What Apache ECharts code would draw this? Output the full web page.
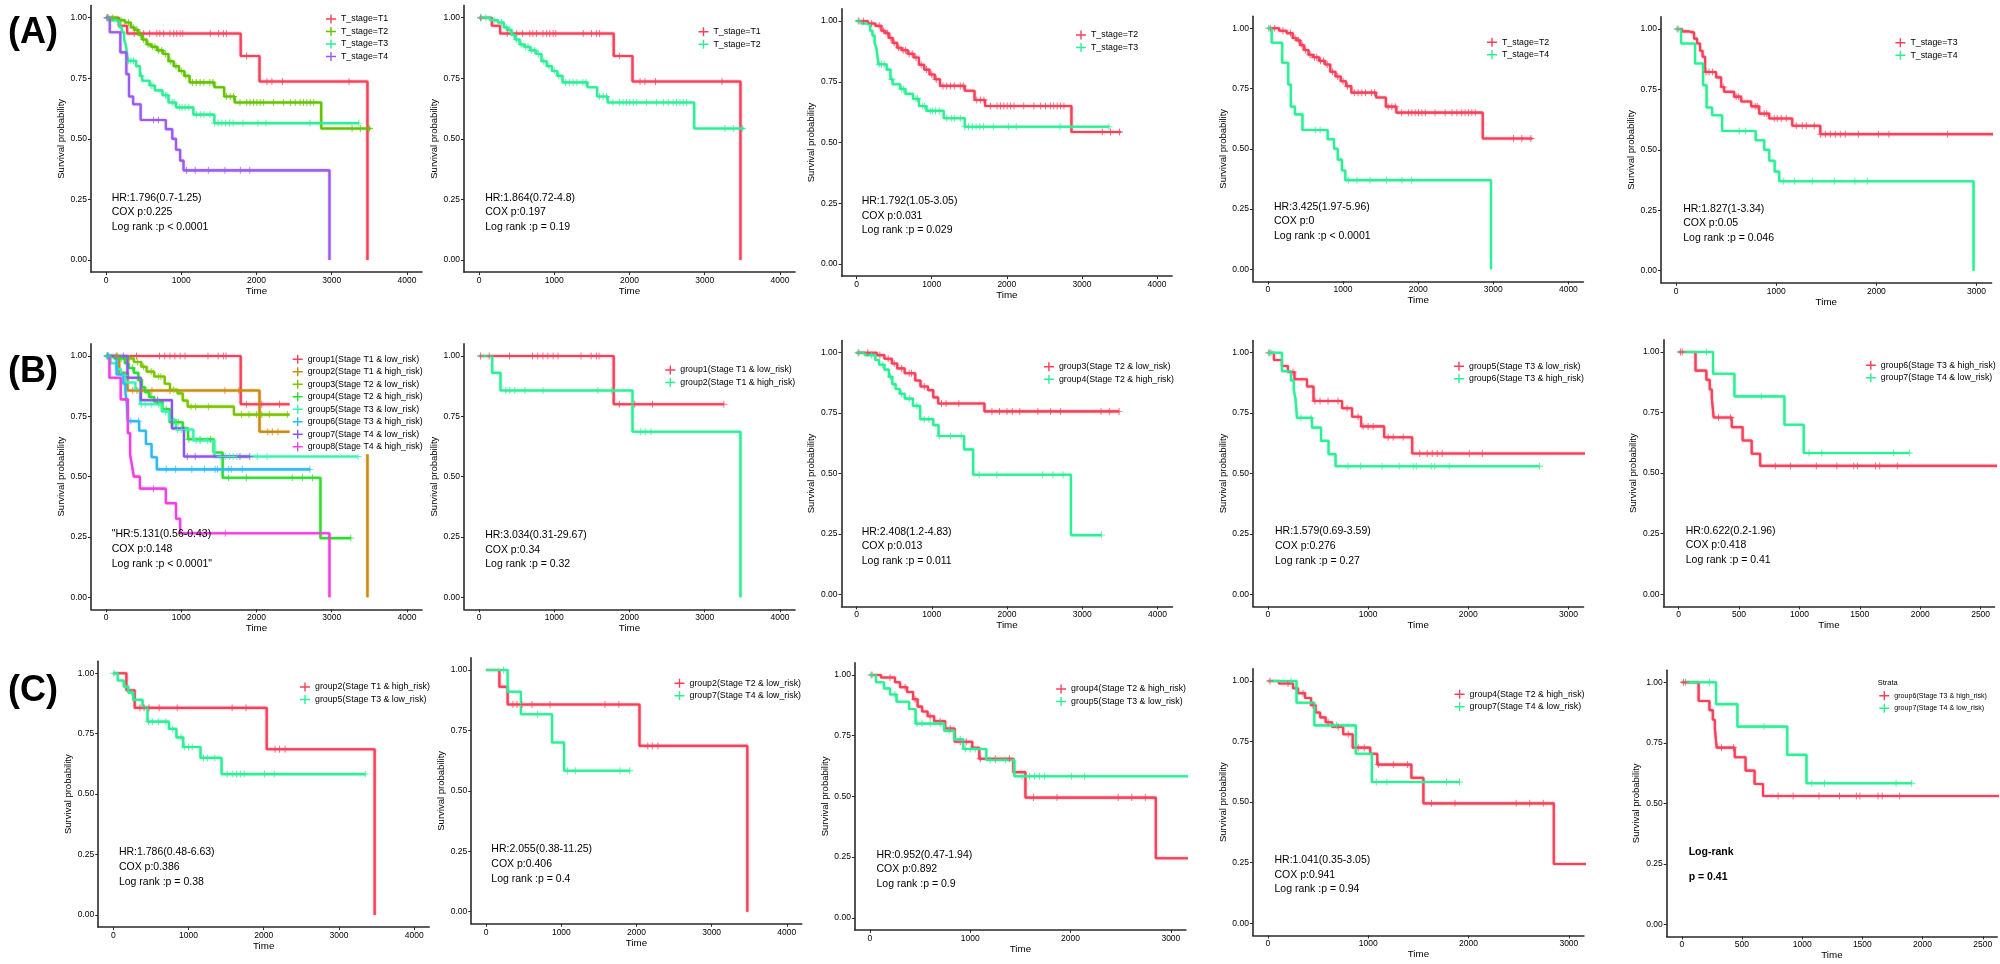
<!DOCTYPE html>
<html><head><meta charset="utf-8">
<script src="https://cdn.jsdelivr.net/npm/echarts@6/dist/echarts.min.js"></script>
<style>html,body{margin:0;padding:0;background:#fff}#c{width:2000px;height:964px}</style>
</head><body><div id="c"></div>
<script>
// ---------- tick labels ----------
const TICKS_4000 = [0, 1000, 2000, 3000, 4000];
const TICKS_3000 = [0, 1000, 2000, 3000];
const TICKS_2500 = [0, 500, 1000, 1500, 2000, 2500];
const Y_TICKS = [0, 0.25, 0.5, 0.75, 1];

// ---------- survival curves: [time, survival] steps, censor times ----------
const T1_steps = [[0,1],[170,0.967],[280,0.935],[1790,0.842],[2040,0.737],[3475,0]];
const T1_cens = [20,375,500,580,675,715,765,850,900,940,985,1020,1385,1495,1560,1600,1868,2140,2205,2345,3230];
const T2_steps = [[0,1],[150,0.99],[250,0.98],[330,0.96],[380,0.95],[430,0.93],[480,0.91],[540,0.89],[600,0.88],[680,0.865],[760,0.85],[830,0.82],[900,0.80],[970,0.78],[1040,0.76],[1110,0.733],[1440,0.713],[1570,0.675],[1710,0.65],[2860,0.543],[3520,0.543]];
const T2_cens = [30,90,200,300,360,410,455,500,560,620,650,700,740,790,860,930,1000,1060,1150,1200,1250,1300,1380,1420,1600,1650,1695,1780,1870,1915,1960,2005,2050,2095,2225,2360,2450,2515,2580,2625,2670,2715,2760,3270,3380,3500];
const T3_steps = [[0,1],[60,0.99],[130,0.985],[180,0.96],[210,0.94],[240,0.91],[265,0.885],[290,0.822],[400,0.80],[450,0.76],[480,0.74],[580,0.72],[650,0.70],[750,0.68],[830,0.65],[930,0.63],[1160,0.60],[1440,0.565],[3360,0.565]];
const T3_cens = [20,300,330,365,470,600,625,790,810,880,905,980,1010,1050,1100,1200,1260,1300,1380,1440,1490,1540,1590,1640,1690,1820,2020,2125,2710,3360];
const T4_steps = [[0,1],[50,0.94],[190,0.857],[270,0.767],[305,0.675],[360,0.643],[460,0.578],[795,0.54],[880,0.50],[930,0.455],[985,0.41],[1030,0.37],[2970,0]];
const T4_cens = [10,630,695,1070,1185,1360,1580,1785,1910];

const G1_steps = [[0,1],[1790,0.80],[3254,0.80]];
const G1_cens = [20,135,405,710,780,850,915,985,1050,1355,1490,1560,1595,1865,2070,2305,3254];
const G2_steps = [[0,1],[175,0.93],[285,0.857],[2040,0.686],[3475,0]];
const G2_cens = [355,410,475,610,850,1580,1765,2150,2210,2285];
const G3_steps = [[0,1],[270,0.99],[370,0.975],[470,0.955],[540,0.935],[640,0.915],[780,0.885],[850,0.86],[950,0.845],[1020,0.815],[1085,0.79],[1700,0.757],[3490,0.757]];
const G3_cens = [30,150,310,420,500,600,700,730,900,1130,1190,1360,1800,1900,2000,2070,2170,2410,2580,2710,3250,3360,3490];
const G4_steps = [[0,1],[110,0.99],[250,0.97],[300,0.95],[370,0.93],[430,0.90],[475,0.87],[520,0.85],[575,0.83],[640,0.81],[750,0.78],[845,0.725],[1020,0.70],[1090,0.655],[1430,0.60],[1550,0.495],[2850,0.245],[3254,0.245]];
const G4_cens = [20,200,350,450,600,700,800,900,960,1100,1250,1390,1630,1865,2475,2610,2745,3254];
const G5_steps = [[0,1],[60,0.97],[140,0.945],[200,0.92],[265,0.89],[390,0.86],[455,0.80],[740,0.77],[840,0.735],[930,0.695],[1160,0.65],[1440,0.583],[3350,0.583]];
const G5_cens = [10,250,470,520,600,700,790,900,950,1000,1050,1200,1250,1350,1515,1590,1640,1690,1740,2010,2140,3350];
const G6_steps = [[0,1],[140,0.923],[230,0.885],[258,0.845],[275,0.81],[290,0.73],[440,0.69],[530,0.635],[605,0.58],[675,0.53],[2710,0.53]];
const G6_cens = [15,30,330,430,800,925,1140,1310,1450,1480,1630,1665,1810,2710];
const G7_steps = [[0,1],[285,0.91],[462,0.817],[876,0.70],[1036,0.583],[1910,0.583]];
const G7_cens = [230,684,1080,1185,1780,1910];
const G8_steps = [[0,1],[45,0.91],[195,0.82],[290,0.68],[320,0.59],[345,0.545],[370,0.50],[450,0.45],[795,0.39],[930,0.325],[985,0.265],[2970,0]];
const G8_cens = [630,1585];

// ---------- legend labels ----------
const LAB_T = ['T_stage=T1','T_stage=T2','T_stage=T3','T_stage=T4'];
const LAB_G = ['group1(Stage T1 & low_risk)','group2(Stage T1 & high_risk)','group3(Stage T2 & low_risk)','group4(Stage T2 & high_risk)','group5(Stage T3 & low_risk)','group6(Stage T3 & high_risk)','group7(Stage T4 & low_risk)','group8(Stage T4 & high_risk)'];
const LAB_C2_RED = 'group2(Stage T2 & low_risk)';

// ---------- annotation texts ----------
const NOTES = {
  A1:['HR:1.796(0.7-1.25)','COX p:0.225','Log rank :p < 0.0001'],
  A2:['HR:1.864(0.72-4.8)','COX p:0.197','Log rank :p = 0.19'],
  A3:['HR:1.792(1.05-3.05)','COX p:0.031','Log rank :p = 0.029'],
  A4:['HR:3.425(1.97-5.96)','COX p:0','Log rank :p < 0.0001'],
  A5:['HR:1.827(1-3.34)','COX p:0.05','Log rank :p = 0.046'],
  B1:['"HR:5.131(0.56-0.43)','COX p:0.148','Log rank :p < 0.0001"'],
  B2:['HR:3.034(0.31-29.67)','COX p:0.34','Log rank :p = 0.32'],
  B3:['HR:2.408(1.2-4.83)','COX p:0.013','Log rank :p = 0.011'],
  B4:['HR:1.579(0.69-3.59)','COX p:0.276','Log rank :p = 0.27'],
  B5:['HR:0.622(0.2-1.96)','COX p:0.418','Log rank :p = 0.41'],
  C1:['HR:1.786(0.48-6.63)','COX p:0.386','Log rank :p = 0.38'],
  C2:['HR:2.055(0.38-11.25)','COX p:0.406','Log rank :p = 0.4'],
  C3:['HR:0.952(0.47-1.94)','COX p:0.892','Log rank :p = 0.9'],
  C4:['HR:1.041(0.35-3.05)','COX p:0.941','Log rank :p = 0.94'],
  C5:['Log-rank','p = 0.41']
};

// ---------- styles / layout ----------
const FONT = '"Liberation Sans", Arial, Helvetica, sans-serif';
const RED = '#F7415A', MINT = '#2EEE96', OLIVE = '#62C200', PURPLE = '#9A5CF0';
const BROWN = '#C98A10', OLIVE2 = '#7CC400', GREEN = '#2EDD2E', MINT2 = '#3AF5B0', BLUE = '#2FB8F5', PURPLE2 = '#8C55EC', MAGENTA = '#F040E0';
const TXT = '#000000', AXIS = '#2a2a2a';

const panels = [
 {id:'A1', box:[91,5.6,331,266.5], xr:[-200,4200], ticks:TICKS_4000, leg:[326,19], note:[111.7,197.7],
  curves:[[T1_steps,T1_cens,LAB_T[0],RED],[T2_steps,T2_cens,LAB_T[1],OLIVE],[T3_steps,T3_cens,LAB_T[2],MINT],[T4_steps,T4_cens,LAB_T[3],PURPLE]]},
 {id:'A2', box:[464,5.6,331,266.5], xr:[-200,4200], ticks:TICKS_4000, leg:[698.5,31.7], note:[485.2,197.7],
  curves:[[T1_steps,T1_cens,LAB_T[0],RED],[T2_steps,T2_cens,LAB_T[1],MINT]]},
 {id:'A3', box:[841.6,8.85,330.5,267.3], xr:[-200,4200], ticks:TICKS_4000, leg:[1076,35], note:[861.7,201],
  curves:[[T2_steps,T2_cens,LAB_T[1],RED],[T3_steps,T3_cens,LAB_T[2],MINT]]},
 {id:'A4', box:[1252.9,16.25,330.5,265.1], xr:[-200,4200], ticks:TICKS_4000, leg:[1487,42.3], note:[1274,206.7],
  curves:[[T2_steps,T2_cens,LAB_T[1],RED],[T4_steps,T4_cens,LAB_T[3],MINT]]},
 {id:'A5', box:[1661,16.9,330.6,265.9], xr:[-150,3150], ticks:TICKS_3000, leg:[1895.4,42.7], note:[1683.2,208.7],
  curves:[[T3_steps,T3_cens,LAB_T[2],RED],[T4_steps,T4_cens,LAB_T[3],MINT]]},
 {id:'B1', box:[91,343.9,331,265.4], xr:[-200,4200], ticks:TICKS_4000, leg:[292.7,359.3], legBg:true, note:[111.7,534.3],
  curves:[[G1_steps,G1_cens,LAB_G[0],RED],[G2_steps,G2_cens,LAB_G[1],BROWN],[G3_steps,G3_cens,LAB_G[2],OLIVE2],[G4_steps,G4_cens,LAB_G[3],GREEN],
          [G5_steps,G5_cens,LAB_G[4],MINT2],[G6_steps,G6_cens,LAB_G[5],BLUE],[G7_steps,G7_cens,LAB_G[6],PURPLE2],[G8_steps,G8_cens,LAB_G[7],MAGENTA]]},
 {id:'B2', box:[464,343.9,331,265.4], xr:[-200,4200], ticks:TICKS_4000, leg:[665.3,370], note:[485.2,535],
  curves:[[G1_steps,G1_cens,LAB_G[0],RED],[G2_steps,G2_cens,LAB_G[1],MINT]]},
 {id:'B3', box:[841.5,340.6,331,265.8], xr:[-200,4200], ticks:TICKS_4000, leg:[1043.9,366.7], note:[861.7,531.7],
  curves:[[G3_steps,G3_cens,LAB_G[2],RED],[G4_steps,G4_cens,LAB_G[3],MINT]]},
 {id:'B4', box:[1252.9,340.6,330.6,265.8], xr:[-150,3150], ticks:TICKS_3000, leg:[1454,366.3], note:[1275,531.3],
  curves:[[G5_steps,G5_cens,LAB_G[4],RED],[G6_steps,G6_cens,LAB_G[5],MINT]]},
 {id:'B5', box:[1663.5,339.9,331,266.5], xr:[-125,2615], ticks:TICKS_2500, leg:[1865.8,365.3], note:[1685.7,530.7],
  curves:[[G6_steps,G6_cens,LAB_G[5],RED],[G7_steps,G7_cens,LAB_G[6],MINT]]},
 {id:'C1', box:[98.2,661.2,331,265.9], xr:[-200,4200], ticks:TICKS_4000, leg:[300,687], note:[118.9,852.3],
  curves:[[G2_steps,G2_cens,LAB_G[1],RED],[G5_steps,G5_cens,LAB_G[4],MINT]]},
 {id:'C2', box:[471.2,657.9,330.6,265.9], xr:[-200,4200], ticks:TICKS_4000, leg:[674.5,683.3], note:[491.3,849.3],
  curves:[[G2_steps,G2_cens,LAB_C2_RED,RED],[G7_steps,G7_cens,LAB_G[6],MINT]]},
 {id:'C3', box:[854.9,662.9,331,267], xr:[-150,3150], ticks:TICKS_3000, leg:[1056.1,689], note:[876.5,854.7],
  curves:[[G4_steps,G4_cens,LAB_G[3],RED],[G5_steps,G5_cens,LAB_G[4],MINT]]},
 {id:'C4', box:[1252.9,668.9,331,266.5], xr:[-150,3150], ticks:TICKS_3000, leg:[1454.6,694.3], note:[1274.5,860],
  curves:[[G4_steps,G4_cens,LAB_G[3],RED],[G7_steps,G7_cens,LAB_G[6],MINT]]},
 {id:'C5', box:[1666.7,670.2,330.5,266.2], xr:[-125,2620], ticks:TICKS_2500, leg:[1879.3,695.7], small:true, strata:[1877.7,682.7], note:[1688.7,852], noteGap:24.7, noteBold:true,
  curves:[[G6_steps,G6_cens,LAB_G[5],RED],[G7_steps,G7_cens,LAB_G[6],MINT]]}
];

const PLUS = 'path://M0,4.35H10V5.65H0Z M4.35,0H5.65V10H4.35Z';
const LEG_ICON = 'path://M0,4.3H10V5.7H0Z M4.3,0.5H5.7V9.5H4.3Z';

function survAt(steps, t) {
  let y = steps[0][1];
  for (const s of steps) { if (s[0] <= t) y = s[1]; else break; }
  return y;
}

const grid = [], xAxis = [], yAxis = [], series = [], legend = [], graphic = [];

panels.forEach((p, i) => {
  grid.push({left:p.box[0], top:p.box[1], width:p.box[2], height:p.box[3], containLabel:false});
  xAxis.push({type:'value', gridIndex:i, min:p.xr[0], max:p.xr[1],
    axisLine:{show:true, onZero:false, lineStyle:{color:AXIS, width:1.6}},
    axisTick:{show:true, length:3, customValues:p.ticks, lineStyle:{color:AXIS, width:1}},
    axisLabel:{customValues:p.ticks, margin:4, fontSize:8.5, color:TXT, fontFamily:FONT, formatter:v => String(v)},
    splitLine:{show:false},
    name:'Time', nameLocation:'middle', nameGap:14, nameTextStyle:{fontSize:9.8, color:TXT, fontFamily:FONT}});
  yAxis.push({type:'value', gridIndex:i, min:-0.05, max:1.05,
    axisLine:{show:true, onZero:false, lineStyle:{color:AXIS, width:1.6}},
    axisTick:{show:true, length:3, customValues:Y_TICKS, lineStyle:{color:AXIS, width:1}},
    axisLabel:{customValues:Y_TICKS, margin:4, fontSize:8.5, color:TXT, fontFamily:FONT, formatter:v => v.toFixed(2)},
    splitLine:{show:false},
    name:'Survival probability', nameLocation:'middle', nameRotate:90, nameGap:25,
    nameTextStyle:{fontSize:9.5, color:TXT, fontFamily:FONT}});

  const names = [];
  p.curves.forEach(([steps, cens, label, color]) => {
    const nm = label + '|' + p.id;
    names.push(nm);
    series.push({type:'line', name:nm, xAxisIndex:i, yAxisIndex:i, step:'end', symbol:'none',
      data:steps, color:color, itemStyle:{color:color},
      lineStyle:{color:color, width:2.1, shadowColor:color, shadowBlur:1.5},
      silent:true, animation:false, z:2});
    series.push({type:'scatter', name:nm + '_c', xAxisIndex:i, yAxisIndex:i,
      data:cens.map(t => [t, survAt(steps, t)]),
      symbol:PLUS, symbolSize:7, itemStyle:{color:color}, silent:true, animation:false, z:3});
  });

  const fs = p.small ? 7.1 : 8.8;
  const pad = p.legBg ? [4, 4, 3, 3] : 0;
  legend.push({data:names, orient:'vertical', selectedMode:false,
    left: p.leg[0] - (p.legBg ? 3 : 0), top: p.leg[1] - 4.5 - (p.legBg ? 4 : 0),
    itemWidth:10, itemHeight:9, itemGap:3.5, icon:LEG_ICON, padding:pad,
    backgroundColor: p.legBg ? '#ffffff' : 'transparent',
    formatter: n => n.split('|')[0],
    textStyle:{fontSize:fs, color:TXT, fontFamily:FONT, lineHeight:9}, z:6});

  if (p.strata) {
    graphic.push({type:'text', x:p.strata[0], y:p.strata[1], z:10,
      style:{text:'Strata', font:'7.5px ' + FONT, fill:TXT, verticalAlign:'middle'}});
  }
  const lines = NOTES[p.id];
  const gap = p.noteGap || 14.8;
  lines.forEach((t, k) => {
    graphic.push({type:'text', x:p.note[0], y:p.note[1] + k * gap, z:10,
      style:{text:t, font:(p.noteBold ? 'bold ' : '') + '10.5px ' + FONT, fill:TXT, verticalAlign:'middle'}});
  });
});

[['(A)', 33], ['(B)', 372], ['(C)', 691]].forEach(([t, y]) => {
  graphic.push({type:'text', x:8, y:y, z:10,
    style:{text:t, font:'bold 36px ' + FONT, fill:'#000', verticalAlign:'middle'}});
});

const chart = echarts.init(document.getElementById('c'), null, {renderer:'canvas'});
chart.setOption({animation:false, backgroundColor:'#ffffff', grid, xAxis, yAxis, series, legend, graphic});
</script></body></html>
